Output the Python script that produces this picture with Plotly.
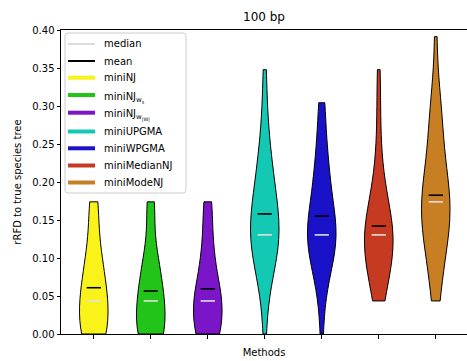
import numpy as np
import plotly.graph_objects as go

# rRFD levels (distinct values observed) and number of trees at each level per method
rrfd_levels = [0.0, 0.0435, 0.0870, 0.1304, 0.1739, 0.2174, 0.2609, 0.3043, 0.3478, 0.3913]

methods = ["miniNJ", "miniNJ<sub>w<sub>s</sub></sub>", "miniNJ<sub>w<sub>|W|</sub></sub>",
           "miniUPGMA", "miniWPGMA", "miniMedianNJ", "miniModeNJ"]
colors = ["#faf31a", "#22c41a", "#7b15c8", "#14c9b4", "#1a12c9", "#c73a22", "#c87f23"]

counts_miniNJ       = [9, 9, 6, 3, 3, 0, 0, 0, 0, 0]
counts_miniNJ_ws    = [10, 9, 6, 2, 3, 0, 0, 0, 0, 0]
counts_miniNJ_wW    = [9, 10, 5, 3, 3, 0, 0, 0, 0, 0]
counts_miniUPGMA    = [1, 1, 5, 9, 6, 4, 2, 1, 1, 0]
counts_miniWPGMA    = [1, 1, 5, 10, 5, 4, 2, 2, 0, 0]
counts_miniMedianNJ = [0, 3, 7, 10, 5, 2, 1, 1, 1, 0]
counts_miniModeNJ   = [0, 2, 3, 6, 8, 4, 3, 3, 0, 1]

all_counts = [counts_miniNJ, counts_miniNJ_ws, counts_miniNJ_wW, counts_miniUPGMA,
              counts_miniWPGMA, counts_miniMedianNJ, counts_miniModeNJ]

positions = [1, 2, 3, 4, 5, 6, 7]
y_ticks = [0.0, 0.05, 0.10, 0.15, 0.20, 0.25, 0.30, 0.35, 0.40]

FONT = "DejaVu Sans"
fig = go.Figure()

for pos, cnt, col in zip(positions, all_counts, colors):
    data = np.repeat(rrfd_levels, cnt)
    n = len(data)
    bw = np.std(data, ddof=1) * n ** (-1 / 5)  # Scott's rule
    fig.add_trace(go.Violin(
        y=data, x0=pos, width=0.5, spanmode="hard", bandwidth=bw,
        fillcolor=col, opacity=1, line=dict(color="black", width=1),
        points=False, box_visible=False, meanline_visible=False,
        scalemode="width", showlegend=False, hoverinfo="skip"))

for pos, cnt in zip(positions, all_counts):
    data = np.repeat(rrfd_levels, cnt)
    m = float(np.mean(data))
    md = float(np.median(data))
    fig.add_trace(go.Scatter(x=[pos - 0.125, pos + 0.125], y=[md, md], mode="lines",
                             line=dict(color="#e0e0e0", width=1.6), showlegend=False, hoverinfo="skip"))
    fig.add_trace(go.Scatter(x=[pos - 0.125, pos + 0.125], y=[m, m], mode="lines",
                             line=dict(color="black", width=1.6), showlegend=False, hoverinfo="skip"))

# ---- hand-built legend (pixel layout converted to paper coords) ----
L, T, B, W = 61.0, 30.0, 334.0, 406.0
def px(x):
    return (x - L) / W
def py(y):
    return (B - y) / (B - T)

x0b, x1b, y0b, y1b, r = px(65), px(186), py(33), py(193), 3.0
rx, ry = r / W, r / (B - T)
box_path = (f"M {x0b + rx},{y0b} L {x1b - rx},{y0b} Q {x1b},{y0b} {x1b},{y0b - ry} "
            f"L {x1b},{y1b + ry} Q {x1b},{y1b} {x1b - rx},{y1b} L {x0b + rx},{y1b} "
            f"Q {x0b},{y1b} {x0b},{y1b + ry} L {x0b},{y0b - ry} Q {x0b},{y0b} {x0b + rx},{y0b} Z")
shapes = [dict(type="path", xref="paper", yref="paper", path=box_path,
               line=dict(color="#cccccc", width=1), fillcolor="rgba(255,255,255,0.8)", layer="above")]
annotations = []
leg_names = ["median", "mean"] + methods
leg_colors = ["#dcdcdc", "black"] + colors
leg_widths = [2, 2] + [4] * 7
leg_y = [44, 61, 77.7, 95, 112.7, 131.5, 148.3, 165.5, 182.5]
text_shift = [0, 0, 0, 2.5, 3, 0, 0, 0, 0]
for name, col, lw, yy, sh in zip(leg_names, leg_colors, leg_widths, leg_y, text_shift):
    shapes.append(dict(type="line", xref="paper", yref="paper", x0=px(68), x1=px(95),
                       y0=py(yy), y1=py(yy), line=dict(color=col, width=lw), layer="above"))
    annotations.append(dict(xref="paper", yref="paper", x=px(102), y=py(yy + sh), text=name,
                            showarrow=False, xanchor="left", yanchor="middle",
                            font=dict(family=FONT, size=10, color="black")))

fig.update_layout(
    width=467, height=361,
    margin=dict(l=61, r=0, t=30, b=27),
    paper_bgcolor="white", plot_bgcolor="white",
    font=dict(family=FONT, size=10, color="black"),
    title=dict(text="100 bp", x=(264 / 467), xanchor="center", y=1 - 17 / 361, yanchor="middle",
               font=dict(family=FONT, size=12, color="black")),
    violinmode="overlay",
    showlegend=False,
    shapes=shapes,
    annotations=annotations,
)
fig.update_xaxes(type="linear", range=[0.425, 7.548], tickvals=positions, ticktext=[""] * 7,
                 ticks="outside", ticklen=3.5, tickcolor="black", showline=True, linecolor="black",
                 linewidth=1, mirror=True, showgrid=False, zeroline=False,
                 title=dict(text="Methods", standoff=9, font=dict(family=FONT, size=10)))
fig.update_yaxes(range=[0, 0.4], tickvals=y_ticks, tickformat=".2f",
                 ticks="outside", ticklen=3.5, tickcolor="black", showline=True, linecolor="black",
                 linewidth=1, mirror=True, showgrid=False, zeroline=False,
                 title=dict(text="rRFD to true species tree", standoff=8, font=dict(family=FONT, size=10)))

fig.write_html("out.html")
